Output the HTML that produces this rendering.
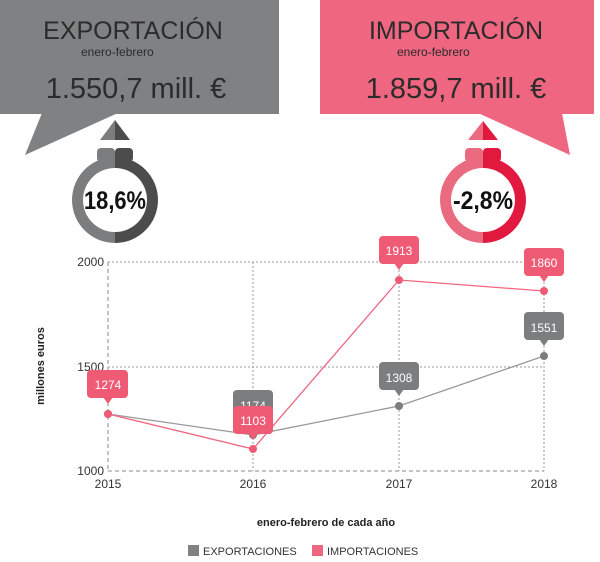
<!DOCTYPE html>
<html><head><meta charset="utf-8"><style>
body{margin:0;background:#fff;}
svg{display:block;font-family:"Liberation Sans",sans-serif;}
</style></head><body>
<svg width="600" height="562" viewBox="0 0 600 562">
<!-- export box -->
<rect x="0" y="0" width="279" height="114" fill="#808182"/>
<polygon points="42,113 118,113 25,155" fill="#808182"/>
<text x="133" y="39" font-size="25" fill="#2b2b2b" text-anchor="middle">EXPORTACIÓN</text>
<text x="81" y="56" font-size="12" fill="#2b2b2b">enero-febrero</text>
<text x="136" y="98" font-size="29" fill="#2b2b2b" text-anchor="middle">1.550,7 mill. €</text>
<!-- export ring -->
<polygon points="115,120 100,140 115,140" fill="#7c7d7e"/><polygon points="115,120 130,140 115,140" fill="#4c4c4c"/>
<rect x="97" y="148" width="18" height="14" rx="4" fill="#7c7d7e"/><rect x="115" y="148" width="18" height="14" rx="4" fill="#4c4c4c"/>
<path d="M115,157 A43,43 0 0 0 115,243 Z" fill="#7c7d7e"/><path d="M115,157 A43,43 0 0 1 115,243 Z" fill="#4c4c4c"/>
<circle cx="115" cy="200" r="32" fill="#fff"/>
<text x="115" y="209" font-size="25" font-weight="bold" fill="#111" text-anchor="middle" textLength="62" lengthAdjust="spacingAndGlyphs">18,6%</text>
<!-- import box -->
<rect x="320" y="0" width="274" height="114" fill="#ef6680"/>
<polygon points="478,113 562,113 570,155" fill="#ef6680"/>
<text x="456" y="39" font-size="25" fill="#2b2b2b" text-anchor="middle">IMPORTACIÓN</text>
<text x="397" y="56" font-size="12" fill="#2b2b2b">enero-febrero</text>
<text x="456" y="98" font-size="29" fill="#2b2b2b" text-anchor="middle">1.859,7 mill. €</text>
<!-- import ring -->
<polygon points="483,121 468,140 483,140" fill="#ea6a80"/><polygon points="483,121 498,140 483,140" fill="#e2193f"/>
<rect x="465" y="148" width="18" height="14" rx="4" fill="#ea6a80"/><rect x="483" y="148" width="18" height="14" rx="4" fill="#e2193f"/>
<path d="M483,157 A43,43 0 0 0 483,243 Z" fill="#ea6a80"/><path d="M483,157 A43,43 0 0 1 483,243 Z" fill="#e2193f"/>
<circle cx="483" cy="200" r="32" fill="#fff"/>
<text x="483" y="209" font-size="25" font-weight="bold" fill="#111" text-anchor="middle" textLength="60" lengthAdjust="spacingAndGlyphs">-2,8%</text>
<!-- grid -->
<g stroke="#999" stroke-width="1" stroke-dasharray="2,2" fill="none">
<line x1="108" y1="262" x2="544" y2="262"/><line x1="108" y1="367" x2="544" y2="367"/>
<line x1="253" y1="262" x2="253" y2="471"/><line x1="399" y1="262" x2="399" y2="471"/><line x1="544" y1="262" x2="544" y2="471"/>
</g>
<g stroke="#888" stroke-width="1" stroke-dasharray="4,3" fill="none">
<line x1="108" y1="471" x2="544" y2="471"/><line x1="108" y1="262" x2="108" y2="471"/>
</g>
<g font-size="12" fill="#333" text-anchor="end">
<text x="104" y="266">2000</text><text x="104" y="371">1500</text><text x="104" y="475">1000</text>
</g>
<g font-size="12" fill="#333" text-anchor="middle">
<text x="108" y="488">2015</text><text x="253" y="488">2016</text><text x="399" y="488">2017</text><text x="544" y="488">2018</text>
</g>
<text transform="translate(44,366) rotate(-90)" font-size="11" font-weight="bold" fill="#222" text-anchor="middle">millones euros</text>
<!-- series -->
<polyline points="108,414 253,435 399,406 544,356" fill="none" stroke="#999" stroke-width="1.3"/>
<polyline points="108,414 253,449 399,280 544,291" fill="none" stroke="#ef6680" stroke-width="1.3"/>
<g fill="#7c7d7e"><circle cx="108" cy="414" r="4"/><circle cx="253" cy="435" r="4"/><circle cx="399" cy="406" r="4"/><circle cx="544" cy="356" r="4"/></g>
<g fill="#ef5a75"><circle cx="108" cy="414" r="4"/><circle cx="253" cy="449" r="4"/><circle cx="399" cy="280" r="4"/><circle cx="544" cy="291" r="4"/></g>
<!-- labels -->
<g font-size="12" fill="#fff" text-anchor="middle">
<g fill="#7c7d7e"><rect x="233" y="390" width="40" height="28" rx="4"/><polygon points="248,417 258,417 253,423"/>
<rect x="379" y="362" width="40" height="28" rx="4"/><polygon points="394,389 404,389 399,396"/>
<rect x="524" y="312" width="40" height="28" rx="4"/><polygon points="539,339 549,339 544,346"/></g>
<text x="253" y="410">1174</text><text x="399" y="382">1308</text><text x="544" y="332">1551</text>
<g fill="#ef5a75"><rect x="87" y="370" width="41" height="28" rx="4"/><polygon points="103,397 113,397 108,404"/>
<rect x="233" y="406" width="40" height="28" rx="4"/><polygon points="248,433 258,433 253,440"/>
<rect x="379" y="236" width="40" height="28" rx="4"/><polygon points="394,263 404,263 399,270"/>
<rect x="524" y="248" width="40" height="28" rx="4"/><polygon points="539,275 549,275 544,282"/></g>
<text x="108" y="389">1274</text><text x="253" y="425">1103</text><text x="399" y="255">1913</text><text x="544" y="267">1860</text>
</g>
<text x="326" y="526" font-size="11" font-weight="bold" fill="#222" text-anchor="middle">enero-febrero de cada año</text>
<rect x="188" y="545" width="11" height="11" fill="#808182"/>
<text x="203" y="555" font-size="11" fill="#333">EXPORTACIONES</text>
<rect x="312" y="545" width="11" height="11" fill="#ef6680"/>
<text x="327" y="555" font-size="11" fill="#333">IMPORTACIONES</text>
</svg>
</body></html>
